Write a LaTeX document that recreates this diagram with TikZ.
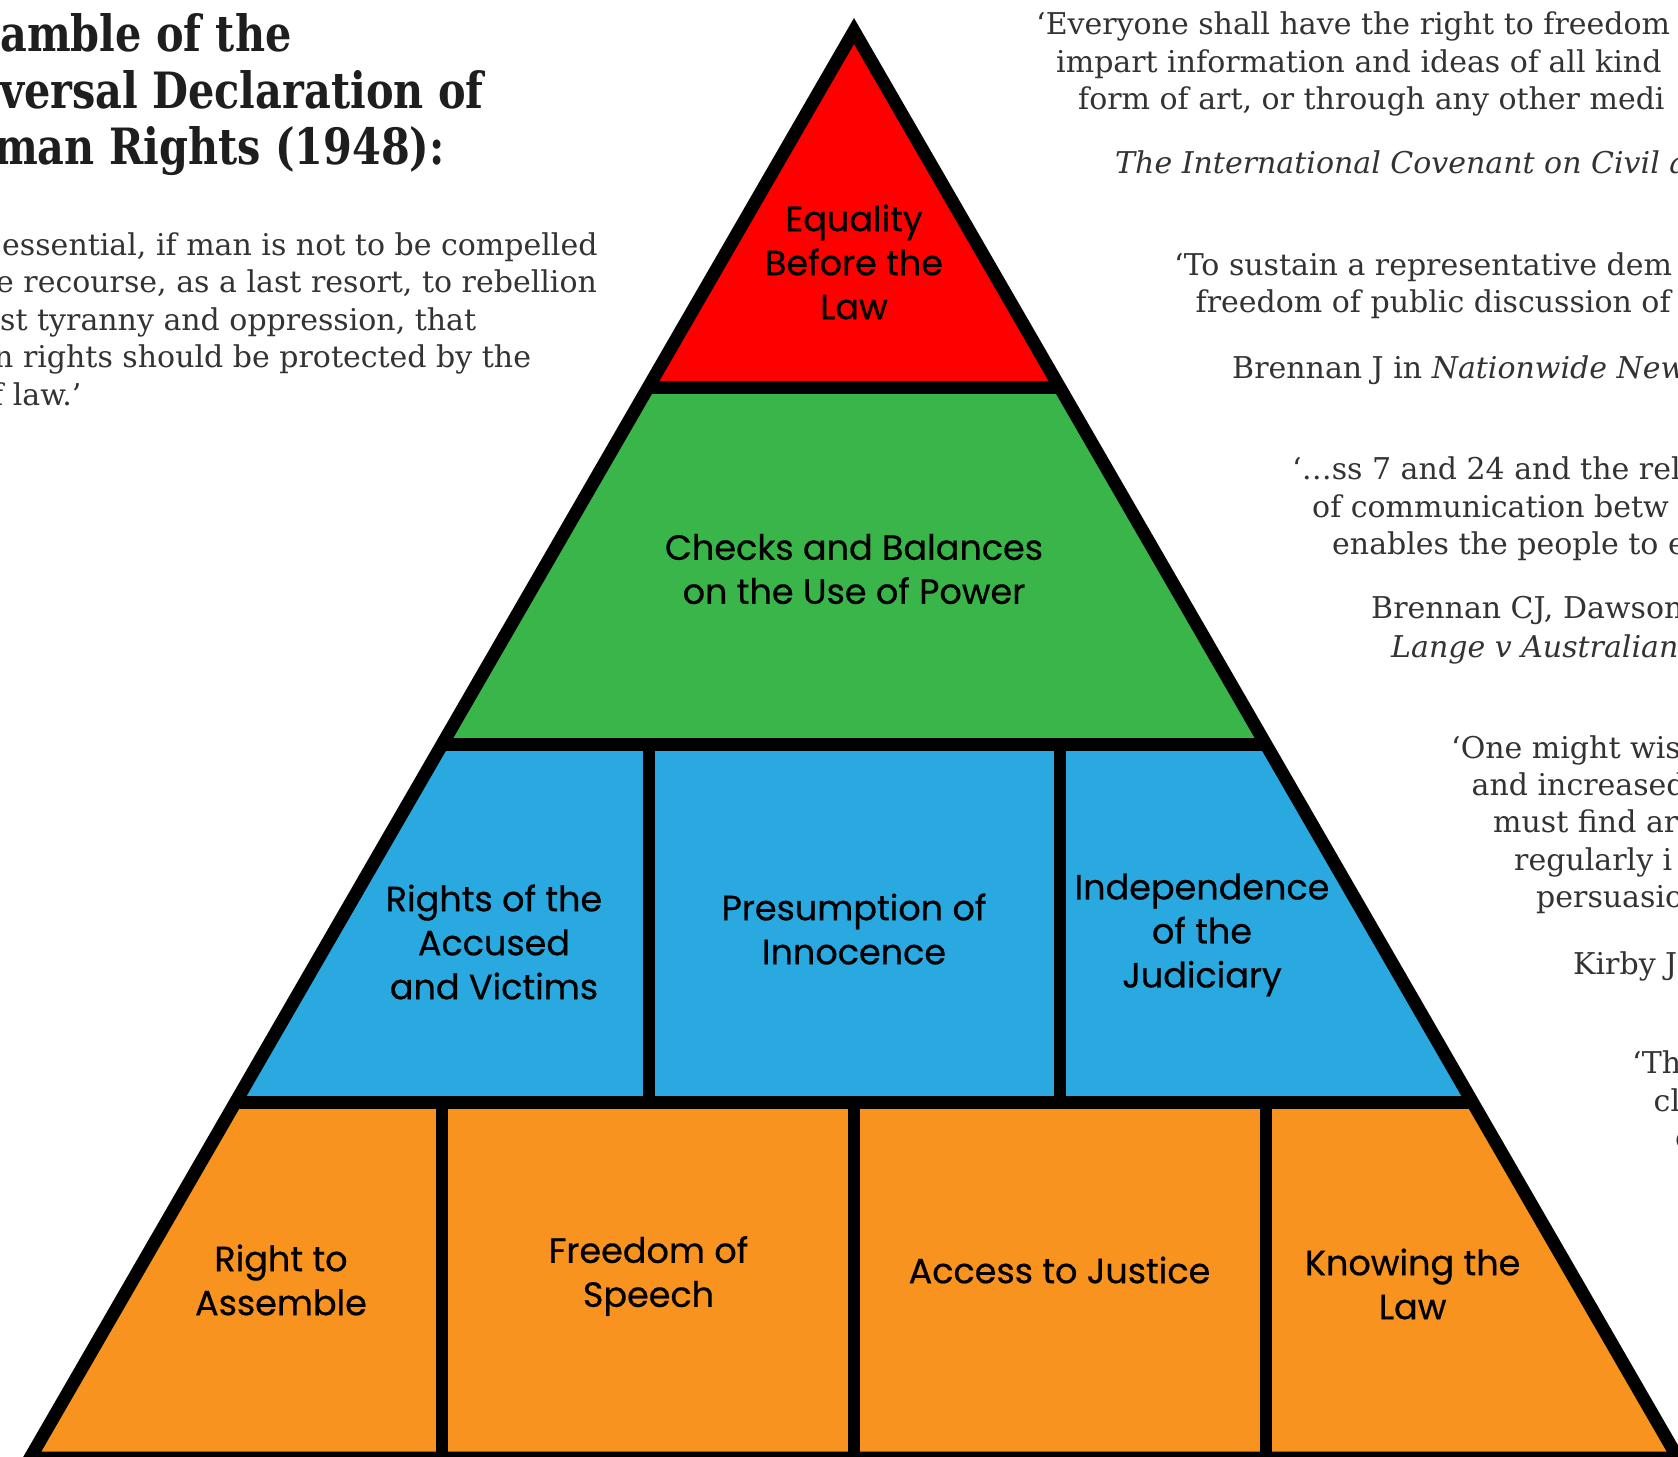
\documentclass[tikz,border=0pt]{standalone}
\usepackage{fontspec}
\setmainfont{DejaVu Serif}
\newfontfamily\serifq{DejaVu Serif}
\newfontfamily\headfont{DejaVu Serif Condensed}[FakeStretch=0.92]
\newfontfamily\pyr{Poppins}[FakeBold=0.6]
\definecolor{pred}{HTML}{FF0000}
\definecolor{pgreen}{HTML}{39B54A}
\definecolor{pblue}{HTML}{29A9E0}
\definecolor{porange}{HTML}{F7931E}
\definecolor{ink}{HTML}{333333}
\definecolor{headink}{HTML}{1E1E1E}
\tikzset{
  plbl/.style={font=\pyr\fontsize{35}{44}\selectfont, align=center, text=black, inner sep=0pt},
  qline/.style={font=\serifq\fontsize{30}{37.5}\selectfont, text=ink, anchor=base west, inner sep=0pt},
  qital/.style={qline, font=\serifq\itshape\fontsize{30}{37.5}\selectfont},
  hdline/.style={font=\headfont\bfseries\fontsize{50}{57}\selectfont, text=headink, anchor=base west, inner sep=0pt},
  rim/.style={line width=13pt, line join=miter, draw=black},
  divider/.style={line width=12pt, draw=black},
}
\begin{document}
\begin{tikzpicture}[x=1pt,y=-1pt]
\useasboundingbox (0,0) rectangle (1678,1456);
\clip (0,0) rectangle (1678,1456);
\fill[white] (0,0) rectangle (1678,1456);
% pyramid vertices
\coordinate (A) at (854,31);
\coordinate (L1) at (648.5,387);  \coordinate (R1) at (1059.5,387);
\coordinate (L2) at (442.3,744);  \coordinate (R2) at (1265.7,744);
\coordinate (L3) at (235.6,1102); \coordinate (R3) at (1472.4,1102);
\coordinate (L4) at (30.1,1458);  \coordinate (R4) at (1677.9,1458);
% divider end points
\coordinate (b1t) at (648.5,744);  \coordinate (b1b) at (648.5,1102);
\coordinate (b2t) at (1059.5,744); \coordinate (b2b) at (1059.5,1102);
\coordinate (o1t) at (442.3,1102); \coordinate (o1b) at (442.3,1458);
\coordinate (o2t) at (854,1102);   \coordinate (o2b) at (854,1458);
\coordinate (o3t) at (1265.7,1102);\coordinate (o3b) at (1265.7,1458);
% fills
\fill[pred] (A) -- (L1) -- (R1) -- cycle;
\fill[pgreen] (L1) -- (R1) -- (R2) -- (L2) -- cycle;
\fill[pblue] (L2) -- (R2) -- (R3) -- (L3) -- cycle;
\fill[porange] (L3) -- (R3) -- (R4) -- (L4) -- cycle;
% inner lines
\draw[rim] (L1) -- (R1);
\draw[rim] (L2) -- (R2);
\draw[rim] (L3) -- (R3);
\draw[divider] (b1t) -- (b1b);
\draw[divider] (b2t) -- (b2b);
\draw[divider] (o1t) -- (o1b);
\draw[divider] (o2t) -- (o2b);
\draw[divider] (o3t) -- (o3b);
% outline
\draw[rim] (A) -- (L4) -- (R4) -- cycle;
% pyramid labels
\node[plbl] (equality) at (854,262) {Equality\\Before the\\Law};
\node[plbl] (checks) at (854,569) {Checks and Balances\\on the Use of Power};
\node[plbl] (accused) at (494,942) {Rights of the\\Accused\\and Victims};
\node[plbl] (innocence) at (854,929) {Presumption of\\Innocence};
\node[plbl] (judiciary) at (1202,935) {Independence\\of the\\Judiciary};
\node[plbl] (assemble) at (281,1280) {Right to\\Assemble};
\node[plbl] (speech) at (648.5,1276) {Freedom of\\Speech};
\node[plbl] (justice) at (1059.5,1270) {Access to Justice};
\node[plbl] (knowing) at (1412.7,1284) {Knowing the\\Law};
% left heading
\node[hdline] (h1) at (0,51) {amble of the};
\node[hdline] (h2) at (0,108) {versal Declaration of};
\node[hdline] (h3) at (-6,164) {man Rights (1948):};
% left quote
\node[qline] (l1) at (2,255) {essential, if man is not to be compelled};
\node[qline] (l2) at (-4,292.5) {e recourse, as a last resort, to rebellion};
\node[qline] (l3) at (0,330) {st tyranny and oppression, that};
\node[qline] (l4) at (-6,367.5) {n rights should be protected by the};
\node[qline] (l5) at (-8,405) {f law.’};
% right quotes
\node[qline] (r1) at (1036,34) {‘Everyone shall have the right to freedom};
\node[qline] (r2) at (1056,72) {impart information and ideas of all kind};
\node[qline] (r3) at (1078,109) {form of art, or through any other medi};
\node[qital] (r4) at (1115,173) {The International Covenant on Civil an};
\node[qline] (r5) at (1174,275) {‘To sustain a representative dem};
\node[qline] (r6) at (1195.5,312.5) {freedom of public discussion of};
\node[qline] (r7) at (1232,378) {Brennan J in \textit{Nationwide New}};
\node[qline] (r8) at (1292,479.5) {‘…ss 7 and 24 and the rel};
\node[qline] (r9) at (1312,517) {of communication betw};
\node[qline] (r10) at (1332,554) {enables the people to e};
\node[qline] (r11) at (1371,618.5) {Brennan CJ, Dawson};
\node[qital] (r12) at (1391,657) {Lange v Australian B};
\node[qline] (r13) at (1451,758) {‘One might wis};
\node[qline] (r14) at (1471.5,795) {and increased};
\node[qline] (r15) at (1493,832.6) {must find ar};
\node[qline] (r16) at (1514,870) {regularly i};
\node[qline] (r17) at (1536,907.5) {persuasio};
\node[qline] (r18) at (1573,974) {Kirby J};
\node[qline] (r19) at (1632,1073) {‘Th};
\node[qline] (r20) at (1653.5,1111) {cl};
\node[qline] (r21) at (1675,1148) {c};
\end{tikzpicture}
\end{document}
